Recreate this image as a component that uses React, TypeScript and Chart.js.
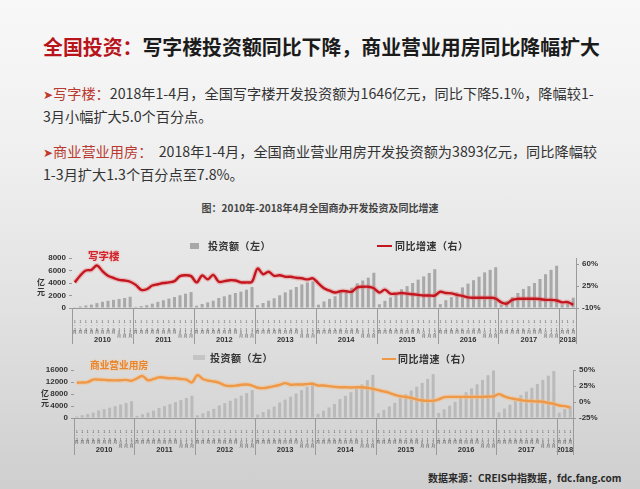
import React, { useEffect, useRef } from 'react';
import { Chart, registerables } from 'chart.js';

Chart.register(...registerables);

// ---------------- DATA ----------------
const yearLabels = ['2010', '2011', '2012', '2013', '2014', '2015', '2016', '2017', '2018'];
const monthsFullYear = ['1-2月', '1-3月', '1-4月', '1-5月', '1-6月', '1-7月', '1-8月', '1-9月', '1-10月', '1-11月', '1-12月'];
const months2018 = ['1-2月', '1-3月', '1-4月'];

// 写字楼 投资额（亿元，累计）
const officeInvestment = [
  120, 250, 400, 540, 780, 1000, 1150, 1300, 1450, 1600, 1807, // 2010
  180, 300, 450, 700, 980, 1240, 1500, 1760, 2030, 2290, 2544, // 2011
  370, 640, 900, 1170, 1600, 1870, 2130, 2400, 2620, 2930, 3367, // 2012
  450, 800, 1170, 1550, 2030, 2500, 2930, 3360, 3780, 4100, 4250, // 2013
  530, 1050, 1450, 1870, 2450, 2850, 3250, 3950, 4400, 4850, 5641, // 2014
  600, 1150, 1700, 2300, 3000, 3500, 4000, 4530, 5060, 5600, 6210, // 2015
  620, 1250, 1750, 2500, 3300, 3900, 4450, 5000, 5700, 6100, 6533, // 2016
  560, 1150, 1734, 2400, 3050, 3500, 4000, 4640, 5400, 6100, 6761, // 2017
  560, 1100, 1646, // 2018
];
// 写字楼 同比增速（%）
const officeGrowth = [
  31, 42, 50, 51, 58, 49, 41.5, 38, 35, 34, 32,
  27, 19, 20, 26, 28, 30, 31, 33, 41, 42.5, 41,
  31, 42, 36, 43, 32, 33, 34.5, 34, 31, 31, 32,
  53, 44, 48, 41.5, 42.5, 40, 40, 38.3, 37.5, 35.8, 37.5,
  29.5, 21.6, 17.8, 14.7, 16.9, 16.9, 16, 23, 24, 24, 21.6,
  14.7, 19.4, 13, 13, 14, 13, 12, 11, 10, 10, 10,
  16, 14, 13.5, 11, 9.5, 7, 6.4, 6.4, 6.4, 6.4, 5,
  -1, -3, 3, 4.7, 4.7, 4.7, 4.7, 4.3, 3, 3, 2,
  -1, -0.5, -5,
];
// 商业营业用房 投资额（亿元，累计）
const commercialInvestment = [
  500, 930, 1350, 1800, 2500, 2950, 3420, 3950, 4500, 5000, 5599,
  680, 1240, 1820, 2440, 3350, 3980, 4600, 5280, 6000, 6650, 7424,
  900, 1560, 2300, 3060, 4200, 4950, 5750, 6550, 7450, 8300, 9312,
  1130, 1990, 2880, 3800, 5150, 6100, 7100, 8150, 9300, 10450, 11945,
  1400, 2450, 3500, 4650, 6300, 7400, 8600, 9850, 11200, 12600, 14346,
  1600, 2700, 3850, 5050, 6850, 7950, 9150, 10400, 11700, 13050, 14607,
  1650, 2880, 4100, 5420, 7330, 8570, 9880, 11250, 12700, 14250, 15838,
  1850, 3150, 4400, 5700, 7600, 8800, 10050, 11350, 12700, 14100, 15640,
  1750, 2950, 3893,
];
// 商业营业用房 同比增速（%）
const commercialGrowth = [
  30, 30.5, 31, 35, 35, 34.5, 34, 33.8, 34, 34.5, 33.3,
  37, 40.5, 34, 36, 38.5, 38, 37, 37, 36, 35, 30.5,
  42, 36, 33.5, 32, 30, 26, 25, 25.5, 26.9, 27.3, 25.7,
  22.2, 21.7, 23, 24.8, 26.9, 29.5, 27, 27.3, 27.3, 28, 28.4,
  25.8, 25.8, 24.8, 23.7, 23.1, 23, 22.6, 23, 23, 22, 20.6,
  18.5, 16.5, 14.3, 11.2, 9.1, 8, 6.5, 4, 2.3, 2, 1.8,
  4, 7.5, 8, 8, 8, 8, 8, 8, 8, 8.6, 8.6,
  12.3, 8.6, 6, 4.5, 2.9, 1.8, 1.3, 0.8, 0.3, -1.4, -3,
  -5.5, -6.5, -8.6,
];

const officeLeftTicks = [0, 2000, 4000, 6000, 8000];
const officeRightTicks = [-10, 25, 60];
const commercialLeftTicks = [0, 4000, 8000, 12000, 16000];
const commercialRightTicks = [-25, 0, 25, 50];

// ---------------- helpers ----------------
const monthsPerYear = yearLabels.map((y) => (y === '2018' ? months2018 : monthsFullYear));
const yearCounts = monthsPerYear.map((m) => m.length);
const categoryLabels: string[][] = monthsPerYear.flat().map((m) => m.split(''));

const NUM_FONT = '"Liberation Sans", "Noto Sans CJK SC", sans-serif';
const CJK_FONT = '"Noto Sans CJK SC", "Noto Sans", sans-serif';

const yearAxisPlugin = {
  id: 'yearAxis',
  afterDraw(chart: any, _args: any, opts: any) {
    const x = chart.scales.x;
    const area = chart.chartArea;
    const ctx = chart.ctx;
    const half = (x.getPixelForValue(1) - x.getPixelForValue(0)) / 2;
    ctx.save();
    ctx.strokeStyle = opts.lineColor;
    ctx.lineWidth = 1;
    ctx.fillStyle = opts.color;
    ctx.font = opts.font;
    ctx.textAlign = 'center';
    ctx.textBaseline = 'middle';
    const bounds: number[] = [];
    let idx = 0;
    opts.counts.forEach((n: number, k: number) => {
      const left = x.getPixelForValue(idx) - half;
      const right = x.getPixelForValue(idx + n - 1) + half;
      bounds.push(left);
      if (k === opts.counts.length - 1) bounds.push(right);
      ctx.fillText(opts.years[k], (left + right) / 2, area.bottom + opts.labelOffset);
      idx += n;
    });
    bounds.forEach((b) => {
      const px = Math.round(b) + 0.5;
      ctx.beginPath();
      ctx.moveTo(px, area.bottom);
      ctx.lineTo(px, area.bottom + opts.lineLength);
      ctx.stroke();
    });
    ctx.restore();
  },
};

interface Params {
  investment: number[];
  growth: number[];
  barColor: string;
  lineColor: string;
  glowColor: string;
  leftMax: number;
  leftTicks: number[];
  rightMin: number;
  rightMax: number;
  rightTicks: number[];
  padTop: number;
  leftWidth: number;
  rightWidth: number;
  xHeight: number;
  sepLength: number;
  yearOffset: number;
}

function buildConfig(p: Params): any {
  const tickFont = { family: NUM_FONT, size: 8, weight: 'bold' as const };
  return {
    type: 'bar',
    data: {
      labels: categoryLabels,
      datasets: [
        {
          type: 'line',
          data: p.growth,
          yAxisID: 'yR',
          borderColor: p.lineColor,
          borderWidth: 2.4,
          pointRadius: 0,
          tension: 0.35,
          order: 1,
        },
        {
          type: 'line',
          data: p.growth,
          yAxisID: 'yR',
          borderColor: p.glowColor,
          borderWidth: 5,
          pointRadius: 0,
          tension: 0.35,
          order: 2,
        },
        {
          type: 'bar',
          data: p.investment,
          yAxisID: 'y',
          backgroundColor: p.barColor,
          barPercentage: 0.55,
          categoryPercentage: 1,
          order: 3,
        },
      ],
    },
    options: {
      responsive: false,
      animation: false,
      layout: { padding: { top: p.padTop, left: 0, right: 0, bottom: 0 } },
      plugins: {
        legend: { display: false },
        tooltip: { enabled: false },
        yearAxis: {
          counts: yearCounts,
          years: yearLabels,
          lineColor: '#9a9a9a',
          color: '#333',
          font: `bold 7.5px ${NUM_FONT}`,
          labelOffset: p.yearOffset,
          lineLength: p.sepLength,
        },
      },
      scales: {
        x: {
          type: 'category',
          offset: true,
          grid: { display: false },
          border: { display: true, color: '#9a9a9a', width: 1 },
          ticks: {
            autoSkip: false,
            maxRotation: 0,
            minRotation: 0,
            padding: 4,
            color: '#555',
            font: { family: CJK_FONT, size: 4, lineHeight: 0.9 },
          },
          afterFit: (s: any) => {
            s.height = p.xHeight;
          },
        },
        y: {
          position: 'left',
          min: 0,
          max: p.leftMax,
          afterBuildTicks: (s: any) => {
            s.ticks = p.leftTicks.map((v) => ({ value: v }));
          },
          ticks: { autoSkip: false, color: '#333', font: tickFont, padding: 3, callback: (v: any) => `${v}` },
          grid: { drawOnChartArea: false, tickLength: 3, color: '#9a9a9a' },
          border: { display: false },
          afterFit: (s: any) => {
            s.width = p.leftWidth;
          },
        },
        yR: {
          position: 'right',
          min: p.rightMin,
          max: p.rightMax,
          afterBuildTicks: (s: any) => {
            s.ticks = p.rightTicks.map((v) => ({ value: v }));
          },
          ticks: { autoSkip: false, color: '#333', font: tickFont, padding: 3, callback: (v: any) => `${v}%` },
          grid: { drawOnChartArea: false, tickLength: 3, color: '#9a9a9a' },
          border: { display: true, color: '#9a9a9a', width: 1 },
          afterFit: (s: any) => {
            s.width = p.rightWidth;
          },
        },
      },
    },
    plugins: [yearAxisPlugin],
  };
}

function ChartCanvas({ params, left, top, width, height }: { params: Params; left: number; top: number; width: number; height: number }) {
  const ref = useRef<HTMLCanvasElement>(null);
  useEffect(() => {
    const chart = new Chart(ref.current as HTMLCanvasElement, buildConfig(params));
    return () => chart.destroy();
  }, []);
  return (
    <canvas
      ref={ref}
      width={width}
      height={height}
      style={{ position: 'absolute', left, top, width, height }}
    />
  );
}

const officeParams: Params = {
  investment: officeInvestment,
  growth: officeGrowth,
  barColor: '#a8a8a8',
  lineColor: '#c3161e',
  glowColor: 'rgba(232,110,110,0.35)',
  leftMax: 8000,
  leftTicks: officeLeftTicks,
  rightMin: -10,
  rightMax: 70,
  rightTicks: officeRightTicks,
  padTop: 22,
  leftWidth: 72,
  rightWidth: 64,
  xHeight: 44,
  sepLength: 36,
  yearOffset: 32,
};

const commercialParams: Params = {
  investment: commercialInvestment,
  growth: commercialGrowth,
  barColor: '#bababa',
  lineColor: '#ee9848',
  glowColor: 'rgba(246,190,130,0.45)',
  leftMax: 16000,
  leftTicks: commercialLeftTicks,
  rightMin: -25,
  rightMax: 50,
  rightTicks: commercialRightTicks,
  padTop: 20,
  leftWidth: 74,
  rightWidth: 67,
  xHeight: 44,
  sepLength: 37,
  yearOffset: 32,
};

const abs = (left: number, top: number, extra: React.CSSProperties = {}): React.CSSProperties => ({
  position: 'absolute',
  left,
  top,
  whiteSpace: 'nowrap',
  ...extra,
});

export default function App() {
  const red = '#b8141c';
  const bodyColor = '#333333';
  const paraStyle: React.CSSProperties = { fontSize: 14.2, lineHeight: '20px', color: bodyColor };
  const legendText: React.CSSProperties = { fontSize: 10, lineHeight: '14px', fontWeight: 700, color: '#333', letterSpacing: 0.5 };
  return (
    <div
      style={{
        position: 'fixed',
        left: 0,
        top: 0,
        width: 640,
        height: 489,
        overflow: 'hidden',
        fontFamily: CJK_FONT,
        background: 'linear-gradient(180deg, #f8f8f8 0%, #f0f0f0 30%, #e2e2e2 62%, #cfcfcf 100%)',
      }}
    >
      <div style={abs(43, 33, { fontSize: 19.9, lineHeight: '28px', fontWeight: 700 })}>
        <span style={{ color: red }}>全国投资：</span>
        <span style={{ color: '#1b1b1b' }}>写字楼投资额同比下降，商业营业用房同比降幅扩大</span>
      </div>

      <div style={abs(43, 83, paraStyle)}>
        <span style={{ color: '#c0392b', fontSize: 12 }}>➤</span>
        <span style={{ color: '#b83a30' }}>写字楼：</span>2018年1-4月，全国写字楼开发投资额为1646亿元，同比下降5.1%，降幅较1-
      </div>
      <div style={abs(43, 106, paraStyle)}>3月小幅扩大5.0个百分点。</div>
      <div style={abs(43, 141, paraStyle)}>
        <span style={{ color: '#c0392b', fontSize: 12 }}>➤</span>
        <span style={{ color: '#b83a30' }}>商业营业用房：</span>&nbsp;&nbsp;2018年1-4月，全国商业营业用房开发投资额为3893亿元，同比降幅较
      </div>
      <div style={abs(43, 164, paraStyle)}>1-3月扩大1.3个百分点至7.8%。</div>

      <div style={abs(0, 201, { width: 640, textAlign: 'center', fontSize: 10, lineHeight: '14px', fontWeight: 700, color: '#444' })}>
        图：2010年-2018年4月全国商办开发投资及同比增速
      </div>

      <ChartCanvas params={officeParams} left={0} top={236} width={640} height={116} />
      <ChartCanvas params={commercialParams} left={0} top={350} width={640} height={112} />

      {/* top chart legend & labels */}
      <div style={abs(190, 243, { width: 9, height: 6, background: '#a8a8a8' })} />
      <div style={abs(208, 239, legendText)}>投资额（左）</div>
      <div style={abs(377, 244.5, { width: 15, height: 2.5, background: '#c3161e' })} />
      <div style={abs(395, 239, legendText)}>同比增速（右）</div>
      <div style={abs(88, 249, { fontSize: 10.5, lineHeight: '14px', color: '#d0232b', fontWeight: 700, textShadow: '0 0 2px rgba(240,150,150,0.8)' })}>
        写字楼
      </div>
      <div style={abs(37, 277, { fontSize: 8, lineHeight: '10px', fontWeight: 700, color: '#333' })}>
        亿<br />元
      </div>

      {/* bottom chart legend & labels */}
      <div style={abs(193, 355, { width: 12, height: 5, background: '#c4c4c4' })} />
      <div style={abs(210, 351, legendText)}>投资额（左）</div>
      <div style={abs(382, 357.5, { width: 14, height: 2.5, background: '#ee9848' })} />
      <div style={abs(398, 352, legendText)}>同比增速（右）</div>
      <div style={abs(90, 358, { fontSize: 9.7, lineHeight: '14px', color: '#e8862e', fontWeight: 700, textShadow: '0 0 2px rgba(250,200,150,0.9)' })}>
        商业营业用房
      </div>
      <div style={abs(41, 388, { fontSize: 8, lineHeight: '10px', fontWeight: 700, color: '#333' })}>
        亿<br />元
      </div>

      <div style={abs(428, 470, { fontSize: 10, lineHeight: '16px', fontWeight: 700, color: '#2a2a2a' })}>
        数据来源：CREIS中指数据，fdc.fang.com
      </div>
    </div>
  );
}
